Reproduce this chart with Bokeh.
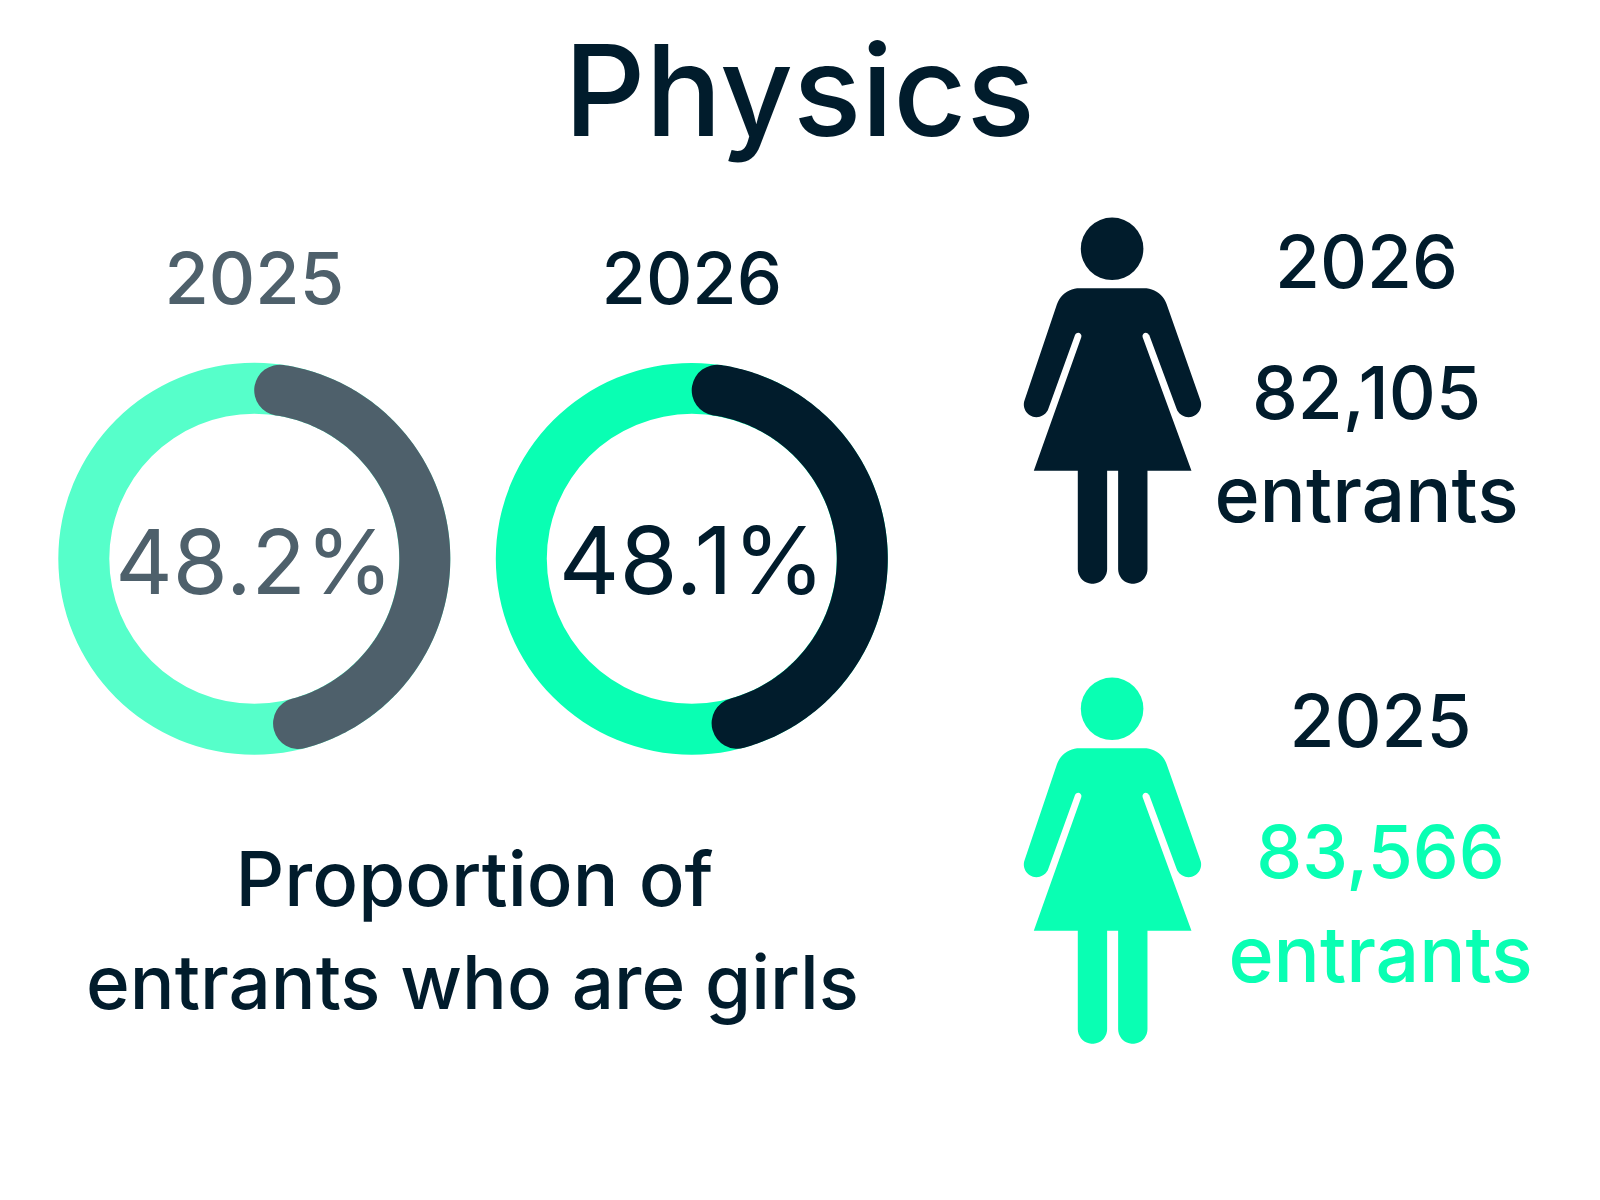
import numpy as np
from bokeh.plotting import figure
from bokeh.embed import file_html
from bokeh.resources import INLINE
from bokeh.core.properties import value

FONT = "Inter Medium"

title = "Physics"
ring_years = ["2025", "2026"]
ring_pcts = [48.2, 48.1]
ring_labels = ["48.2%", "48.1%"]
icon_years = ["2026", "2025"]
icon_counts = ["82,105", "83,566"]
caption = ["Proportion of", "entrants who are girls"]

DARK = "#011c2c"
GREEN = "#09ffb3"
LIGHT = "#56ffca"
GREY = "#4e606b"

p = figure(width=1584, height=1184, x_range=(0, 1584), y_range=(1184, 0),
           output_backend="svg", toolbar_location=None, min_border=0,
           background_fill_color="white", border_fill_color="white", outline_line_color=None)
p.axis.visible = False
p.grid.visible = False


def txt(x, y, s, size, color, font=FONT):
    p.text([x], [y - 0.36 * size], text=[s], text_font=value(font), text_font_size=f"{size}px",
           text_color=color, text_align="center", text_baseline="alphabetic")


txt(799, 135, title, 127, DARK)

ring_cx = [253.8, 691.3]
ring_cy = 558.3
R_MID, STROKE = 170.5, 51
for cx, pct, lab, yr, bg, fg, sz in zip(ring_cx, ring_pcts, ring_labels, ring_years,
                                        [LIGHT, GREEN], [GREY, DARK], [89, 94]):
    p.annulus([cx], [ring_cy], inner_radius=R_MID - STROKE / 2, outer_radius=R_MID + STROKE / 2,
              fill_color=bg, line_color=None)
    cap = np.degrees(STROKE / 2 / R_MID)
    sweep = pct / 100 * 360
    a = np.radians(np.linspace(cap, sweep - cap, 200))
    p.line(cx + R_MID * np.sin(a), ring_cy - R_MID * np.cos(a), line_color=fg,
           line_width=STROKE, line_cap="round", line_join="round")
    txt(cx, 593, lab, sz, fg, "Inter")
    txt(cx, 303, yr, 72, fg)


def arc(cx, cy, r, a0, a1, n=24):
    t = np.radians(np.linspace(a0, a1, n))
    return np.c_[cx + r * np.cos(t), cy + r * np.sin(t)]


def person(color, dy):
    # outline traced in a 3x crop, y grows downwards
    pts = np.vstack([
        [[240, 265], [432, 265]],
        arc(432, 338, 73, -90, -20, 12),
        arc(566, 614, 38, -20, 160, 24),
        [[448, 405]],
        arc(438, 409, 10, -20, -200, 8),
        [[575, 813], [443, 813]],
        arc(399, 1108, 44, 0, 180, 20),
        [[355, 813], [322, 813]],
        arc(278, 1108, 44, 0, 180, 20),
        [[234, 813], [102, 813]],
        arc(235, 409, 10, 20, -160, 8),
        arc(110, 614, 38, 20, 200, 24),
        arc(240, 338, 73, 200, 270, 12),
    ])
    x = 999.3 + pts[:, 0] / 3
    y = 199.3 + pts[:, 1] / 3 + dy
    p.patch(x, y, fill_color=color, line_color=None)
    p.circle([1111.6], [248.3 + dy], radius=31.3, fill_color=color, line_color=None)


person(DARK, 0)
person(GREEN, 460)

txt(1366, 287, icon_years[0], 73, DARK)
txt(1366, 418, icon_counts[0], 73, DARK)
txt(1366, 521, "entrants", 77, DARK)
txt(1380, 746, icon_years[1], 73, GREY if False else DARK)
txt(1380, 877, icon_counts[1], 73, GREEN)
txt(1380, 981, "entrants", 77, GREEN)
txt(474, 905, caption[0], 76, DARK)
txt(472, 1008, caption[1], 74.5, DARK)

open("out.html", "w").write(file_html(p, INLINE))
